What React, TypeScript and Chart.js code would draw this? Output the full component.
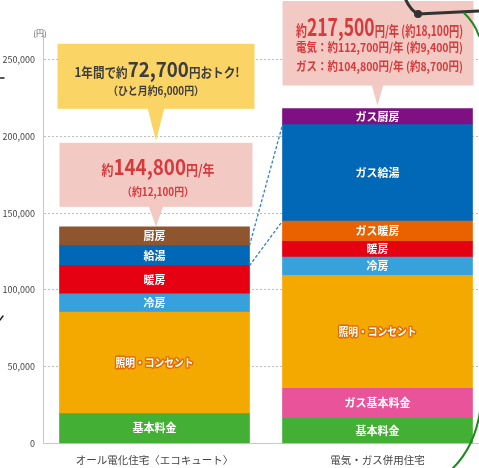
import React, { useEffect, useRef } from "react";
import { Chart, registerables } from "chart.js";

Chart.register(...registerables);

// ---- data ----
const categories = ["オール電化住宅〈エコキュート〉", "電気・ガス併用住宅"];
const kihonRyokin = [19500, 16500];
const gasKihonRyokin = [null, 19400];
const shomeiConsent = [66000, 73500];
const reibo = [12000, 12000];
const danbo = [18300, 10200];
const gasDanbo = [null, 13300];
const kyuto = [13100, null];
const gasKyuto = [null, 62700];
const chubo = [12200, null];
const gasChubo = [null, 10500];

const yTickValues = [0, 50000, 100000, 150000, 200000, 250000];
const yUnit = "(円)";

const savingsLine1 = ["1年間で約", "72,700", "円おトク!"];
const savingsLine2 = "（ひと月約6,000円）";
const elecLine1 = ["約", "144,800", "円/年"];
const elecLine2 = "（約12,100円）";
const gasLine1 = ["約", "217,500", "円/年 (約18,100円)"];
const gasLine2 = "電気：約112,700円/年 (約9,400円)";
const gasLine3 = "ガス：約104,800円/年 (約8,700円)";

const FONT = '"Noto Sans CJK JP", "Noto Sans", sans-serif';

const seriesDefs = [
  { label: "基本料金", data: kihonRyokin, color: "#43b035" },
  { label: "ガス基本料金", data: gasKihonRyokin, color: "#e8539a" },
  { label: "照明・コンセント", data: shomeiConsent, color: "#f4a900", stroke: "#e36a00", maxW: 78 },
  { label: "冷房", data: reibo, color: "#37a1dc" },
  { label: "暖房", data: danbo, color: "#e50012" },
  { label: "ガス暖房", data: gasDanbo, color: "#ea6100" },
  { label: "給湯", data: kyuto, color: "#0068b7" },
  { label: "ガス給湯", data: gasKyuto, color: "#0068b7" },
  { label: "厨房", data: chubo, color: "#8f552e" },
  { label: "ガス厨房", data: gasChubo, color: "#7e1083" },
];

function drawMixed(
  ctx: CanvasRenderingContext2D,
  parts: { t: string; s: number }[],
  cx: number,
  baseline: number,
  color: string,
  targetW: number
) {
  let total = 0;
  const widths = parts.map((p) => {
    ctx.font = `bold ${p.s}px ${FONT}`;
    const w = ctx.measureText(p.t).width;
    total += w;
    return w;
  });
  const k = targetW / total;
  ctx.save();
  ctx.translate(cx - targetW / 2, baseline);
  ctx.scale(k, 1);
  let x = 0;
  ctx.fillStyle = color;
  ctx.textAlign = "left";
  ctx.textBaseline = "alphabetic";
  parts.forEach((p, i) => {
    ctx.font = `bold ${p.s}px ${FONT}`;
    ctx.fillText(p.t, x, 0);
    x += widths[i];
  });
  ctx.restore();
}

function callout(
  ctx: CanvasRenderingContext2D,
  left: number,
  top: number,
  right: number,
  bottom: number,
  tipX: number,
  tipY: number,
  halfBase: number,
  color: string
) {
  ctx.fillStyle = color;
  ctx.fillRect(left, top, right - left, bottom - top);
  ctx.beginPath();
  ctx.moveTo(tipX - halfBase, bottom - 1);
  ctx.lineTo(tipX + halfBase, bottom - 1);
  ctx.lineTo(tipX, tipY);
  ctx.closePath();
  ctx.fill();
}

const overlayPlugin = {
  id: "overlay",
  beforeDraw(chart: any) {
    const ctx = chart.ctx;
    ctx.save();
    ctx.fillStyle = "#ffffff";
    ctx.fillRect(0, 0, chart.width, chart.height);
    ctx.restore();
  },
  afterDatasetsDraw(chart: any) {
    const ctx: CanvasRenderingContext2D = chart.ctx;
    const area = chart.chartArea;
    ctx.save();
    // bar labels
    chart.data.datasets.forEach((ds: any, di: number) => {
      const meta = chart.getDatasetMeta(di);
      meta.data.forEach((el: any, i: number) => {
        const v = ds.data[i];
        if (v == null) return;
        const y = (el.y + el.base) / 2;
        ctx.font = `bold 11px ${FONT}`;
        ctx.textAlign = "center";
        ctx.textBaseline = "middle";
        const mw = ds.labelMaxW || 1000;
        if (ds.labelStroke) {
          ctx.lineJoin = "round";
          ctx.lineWidth = 3;
          ctx.strokeStyle = ds.labelStroke;
          ctx.strokeText(ds.label, el.x, y, mw);
        }
        ctx.fillStyle = "#ffffff";
        ctx.fillText(ds.label, el.x, y, mw);
      });
    });

    // dashed connectors between 給湯 and ガス給湯
    const leftEl = chart.getDatasetMeta(6).data[0];
    const rightEl = chart.getDatasetMeta(7).data[1];
    const lw = leftEl.width / 2;
    const rw = rightEl.width / 2;
    ctx.strokeStyle = "#2f7fcb";
    ctx.lineWidth = 1.3;
    ctx.setLineDash([3, 2]);
    ctx.beginPath();
    ctx.moveTo(leftEl.x + lw, leftEl.y);
    ctx.lineTo(rightEl.x - rw, rightEl.y);
    ctx.moveTo(leftEl.x + lw, leftEl.base);
    ctx.lineTo(rightEl.x - rw, rightEl.base);
    ctx.stroke();
    ctx.setLineDash([]);

    // callouts
    const topLeft = chart.getDatasetMeta(8).data[0];
    const topRight = chart.getDatasetMeta(9).data[1];
    const lcx = topLeft.x + 1.5;
    // pink (all-electric)
    const pTip = topLeft.y;
    const pBottom = pTip - 20;
    const pTop = pBottom - 64;
    callout(ctx, lcx - 96.5, pTop, lcx + 96.5, pBottom, lcx, pTip, 7.5, "#f2cac3");
    drawMixed(ctx, [{ t: elecLine1[0], s: 14 }, { t: elecLine1[1], s: 22 }, { t: elecLine1[2], s: 14 }], lcx + 2, pTop + 32, "#d8393c", 113);
    drawMixed(ctx, [{ t: elecLine2, s: 11 }], lcx + 2, pTop + 53, "#d8393c", 72);
    // yellow savings
    const yTip = pTop - 2;
    const yBottom = yTip - 32;
    const yTop = yBottom - 65;
    callout(ctx, lcx - 98.5, yTop, lcx + 98.5, yBottom, lcx, yTip, 8.5, "#fbd466");
    drawMixed(ctx, [{ t: savingsLine1[0], s: 13 }, { t: savingsLine1[1], s: 21 }, { t: savingsLine1[2], s: 13 }], lcx + 1, yTop + 33, "#3d3d3d", 165);
    drawMixed(ctx, [{ t: savingsLine2, s: 11 }], lcx, yTop + 51, "#3d3d3d", 96);
    // pink (gas)
    const rcx = topRight.x;
    const gTip = topRight.y - 3;
    const gBottom = gTip - 20;
    const gTop = 1;
    callout(ctx, rcx - 95, gTop, rcx + 96, gBottom, rcx, gTip, 6, "#f2cac3");
    drawMixed(ctx, [{ t: gasLine1[0], s: 15 }, { t: gasLine1[1], s: 24 }, { t: gasLine1[2], s: 14 }], rcx + 2, gTop + 35, "#d8393c", 167);
    drawMixed(ctx, [{ t: gasLine2, s: 12 }], rcx + 2, gTop + 51, "#d8393c", 167);
    drawMixed(ctx, [{ t: gasLine3, s: 12 }], rcx + 2, gTop + 70, "#d8393c", 167);

    // unit label
    ctx.font = `8px ${FONT}`;
    ctx.fillStyle = "#555";
    ctx.textAlign = "center";
    ctx.textBaseline = "middle";
    ctx.fillText(yUnit, area.left - 3, 33);

    // decorative edge marks from the source image
    ctx.strokeStyle = "#333";
    ctx.lineWidth = 3;
    ctx.lineCap = "round";
    ctx.beginPath();
    ctx.moveTo(405, -2);
    ctx.quadraticCurveTo(410, 10, 418, 14);
    ctx.lineTo(479, 11);
    ctx.stroke();
    ctx.fillStyle = "#333";
    ctx.beginPath();
    ctx.arc(418, 14, 4, 0, Math.PI * 2);
    ctx.fill();
    ctx.strokeStyle = "#1b8a1b";
    ctx.lineWidth = 2;
    ctx.beginPath();
    ctx.moveTo(464, 13);
    ctx.quadraticCurveTo(474, 22, 479, 36);
    ctx.stroke();
    ctx.beginPath();
    ctx.moveTo(480, 412);
    ctx.quadraticCurveTo(474, 448, 452, 469);
    ctx.stroke();
    ctx.strokeStyle = "#222";
    ctx.lineWidth = 1.5;
    ctx.beginPath();
    ctx.moveTo(0, 78);
    ctx.lineTo(4, 78);
    ctx.moveTo(0, 320);
    ctx.lineTo(3, 316);
    ctx.stroke();
    ctx.restore();
  },
};

export default function App() {
  const ref = useRef<HTMLCanvasElement | null>(null);
  useEffect(() => {
    if (!ref.current) return;
    const chart = new Chart(ref.current, {
      type: "bar",
      data: {
        labels: categories,
        datasets: seriesDefs.map((s) => ({
          label: s.label,
          data: s.data as any,
          backgroundColor: s.color,
          borderWidth: 0,
          labelStroke: (s as any).stroke,
          labelMaxW: (s as any).maxW,
          barThickness: 190,
        })) as any,
      },
      options: {
        animation: false,
        responsive: true,
        maintainAspectRatio: false,
        layout: { padding: { top: 35, left: 0, right: 0, bottom: 0 } },
        plugins: { legend: { display: false }, tooltip: { enabled: false } },
        scales: {
          x: {
            stacked: true,
            offset: true,
            grid: { display: false, drawTicks: false },
            border: { display: true, color: "#c8c8c8", width: 1 },
            ticks: {
              color: "#444",
              font: { family: FONT, size: 10.5 },
              padding: 10,
              maxRotation: 0,
              autoSkip: false,
            },
            afterFit: (scale: any) => {
              scale.height = 24.5;
            },
          },
          y: {
            stacked: true,
            min: 0,
            max: 266000,
            grid: {
              drawTicks: false,
              color: (c: any) => (c.tick && c.tick.value === 0 ? "rgba(0,0,0,0)" : "#bdbdbd"),
              lineWidth: 1,
            },
            border: { display: true, color: "#c8c8c8", width: 1, dash: [2, 2] },
            ticks: {
              color: "#444",
              font: { family: FONT, size: 9 },
              padding: 8,
              callback: (v: any) => Number(v).toLocaleString("en-US"),
            },
            afterBuildTicks: (scale: any) => {
              scale.ticks = yTickValues.map((v) => ({ value: v }));
            },
            afterFit: (scale: any) => {
              scale.width = 43;
            },
          },
        },
      } as any,
      plugins: [overlayPlugin],
    });
    return () => chart.destroy();
  }, []);
  return (
    <div style={{ position: "fixed", left: 0, top: 0, width: 479, height: 468, overflow: "hidden", background: "#fff" }}>
      <div style={{ position: "relative", width: 489, height: 468 }}>
        <canvas ref={ref} />
      </div>
    </div>
  );
}
